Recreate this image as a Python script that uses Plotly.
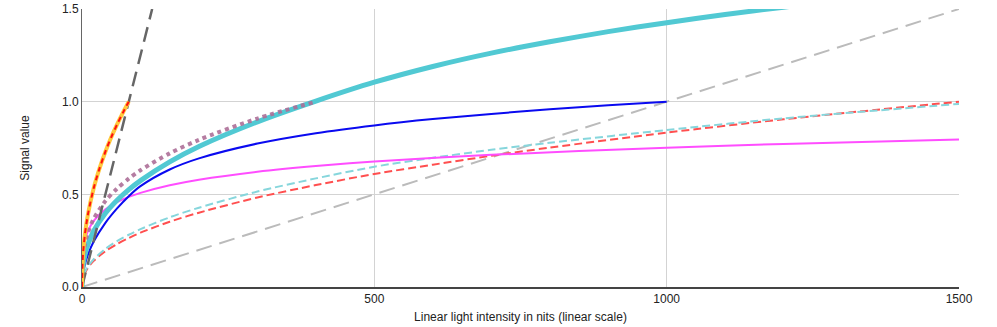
import plotly.graph_objects as go

# ---- data ----
lin80_x = [0, 120]
lin80_y = [0.0, 1.5]

lin1000_x = [0, 1500]
lin1000_y = [0.0, 1.5]

sdr_x = [0, 1, 2, 5, 10, 20, 30, 40, 50, 60, 70, 80]
sdr_y = [0.0, 0.136, 0.187, 0.284, 0.389, 0.533, 0.640, 0.730, 0.808, 0.877, 0.941, 1.0]

gam_x = [0, 2, 5, 10, 20, 40, 60, 80, 100, 150, 200, 300, 400, 500, 600, 700, 800, 1000, 1200, 1500]
red_dash_y = [0.0, 0.049, 0.075, 0.103, 0.141, 0.193, 0.232, 0.264, 0.293, 0.352, 0.401, 0.483,
              0.550, 0.610, 0.660, 0.708, 0.752, 0.833, 0.905, 1.0]
cyan_dash_y = [0.0, 0.053, 0.080, 0.110, 0.150, 0.206, 0.248, 0.282, 0.312, 0.376, 0.428, 0.515,
               0.586, 0.649, 0.697, 0.740, 0.778, 0.847, 0.910, 0.988]

pq_x = [0, 0.1, 0.5, 1, 2, 5, 10, 20, 40, 60, 80, 100, 150, 200, 300, 400, 500, 700, 1000, 1200, 1500]
pq_y = [0.0, 0.062, 0.118, 0.150, 0.188, 0.248, 0.300, 0.357, 0.419, 0.458, 0.486, 0.508, 0.549,
        0.579, 0.622, 0.653, 0.677, 0.713, 0.752, 0.772, 0.796]

hlg_x = [0, 1, 2, 5, 10, 20, 40, 60, 80, 100, 150, 200, 300, 400, 500, 600, 700, 800, 900, 1000]
hlg_y = [0.0, 0.055, 0.077, 0.122, 0.173, 0.245, 0.346, 0.424, 0.490, 0.544, 0.634, 0.694, 0.774,
         0.830, 0.872, 0.906, 0.934, 0.959, 0.981, 1.0]

dot_x = [0, 1, 2, 5, 10, 20, 40, 60, 80, 100, 150, 200, 300, 400]
dot_y = [0.0, 0.136, 0.171, 0.232, 0.292, 0.368, 0.464, 0.531, 0.585, 0.630, 0.721, 0.794, 0.909, 1.0]

thick_x = [0, 1, 2, 5, 10, 20, 40, 60, 80, 100, 150, 200, 300, 400, 500, 600, 700, 800, 900, 1000,
           1100, 1200, 1300]
thick_y = [0.0, 0.091, 0.120, 0.173, 0.229, 0.302, 0.398, 0.468, 0.525, 0.574, 0.675, 0.758, 0.891,
           1.003, 1.105, 1.190, 1.262, 1.323, 1.378, 1.426, 1.470, 1.510, 1.547]

x_ticks = [0, 500, 1000, 1500]
y_ticks = [0.0, 0.5, 1.0, 1.5]

fig = go.Figure()

def add(x, y, color, width, dash="solid", opacity=1.0, shape="spline"):
    fig.add_trace(go.Scatter(x=x, y=y, mode="lines", opacity=opacity,
                             line=dict(color=color, width=width, dash=dash,
                                       shape=shape, smoothing=0.8),
                             hoverinfo="skip", showlegend=False))

add(lin1000_x, lin1000_y, "#BBBBBB", 2, "16px,8px", shape="linear")
add(gam_x, red_dash_y, "#FF4F4F", 2, "8px,4px")
add(gam_x, cyan_dash_y, "#86D6DC", 2, "8px,4px")
add(pq_x, pq_y, "#FF4DFF", 2)
add(hlg_x, hlg_y, "#0A0AF0", 2)
add(thick_x, thick_y, "#51C9D3", 5)
add(dot_x, dot_y, "#AD6F98", 4, "4px,4px", 0.9)
add(lin80_x, lin80_y, "#666666", 2.5, "15px,8px", shape="linear")
add(sdr_x, sdr_y, "#FFC93C", 4)
add(sdr_x, sdr_y, "#FF1010", 2, "5px,4px")

fig.update_layout(
    width=997, height=327,
    margin=dict(l=82, r=38, t=9, b=40, autoexpand=False),
    paper_bgcolor="white", plot_bgcolor="white",
    font=dict(family="Arial, Liberation Sans, sans-serif", size=12, color="#222222"),
    showlegend=False,
)
fig.update_xaxes(
    range=[0, 1500], tickvals=x_ticks, ticktext=[str(v) for v in x_ticks],
    showgrid=True, gridcolor="#D3D3D3", gridwidth=1, automargin=False,
    showline=True, linecolor="#444444", linewidth=1.5, zeroline=False,
    ticks="", tickfont=dict(size=12, color="#222222"),
    title=dict(text="Linear light intensity in nits (linear scale)", font=dict(size=12), standoff=7),
)
fig.update_yaxes(
    range=[0, 1.5], tickvals=y_ticks, ticktext=[f"{v:.1f}" for v in y_ticks],
    showgrid=True, gridcolor="#D3D3D3", gridwidth=1, automargin=False,
    showline=True, linecolor="#666666", linewidth=1, zeroline=False,
    ticks="", tickfont=dict(size=12, color="#222222"),
    title=dict(text="Signal value", font=dict(size=12), standoff=29),
)

fig.write_html("out.html", config={"displayModeBar": False},
               post_script="document.body.style.margin='0';document.body.style.overflow='hidden';")
